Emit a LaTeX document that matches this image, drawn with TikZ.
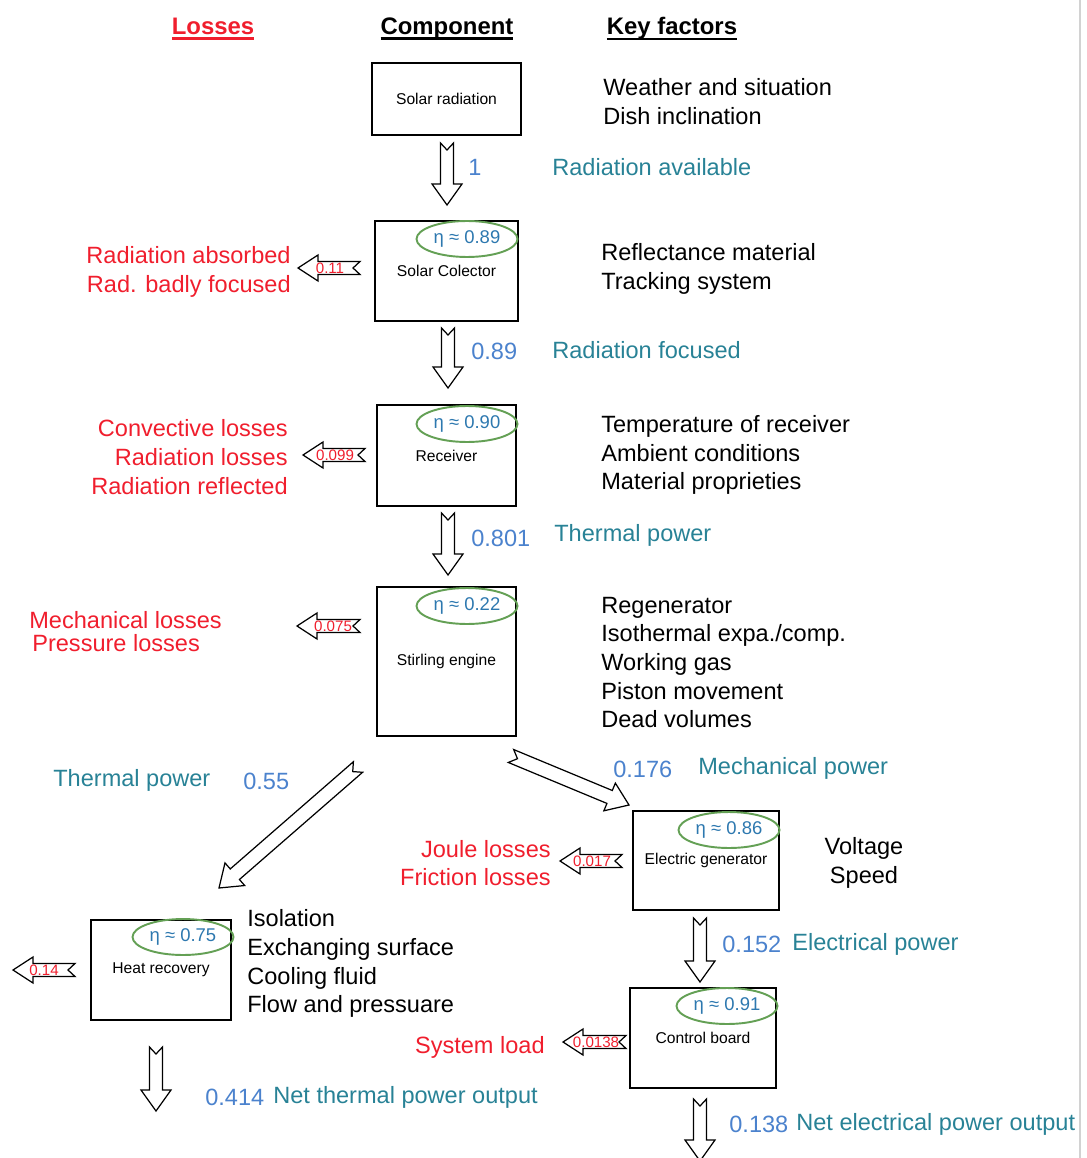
\documentclass[tikz,border=0pt]{standalone}
\usepackage{fontspec}
\setmainfont{Liberation Sans}
\usetikzlibrary{calc,shapes.geometric}
\definecolor{lossred}{RGB}{240,30,45}
\definecolor{numblue}{RGB}{75,130,205}
\definecolor{flowteal}{RGB}{40,130,150}
\definecolor{effgreen}{RGB}{100,160,85}
\definecolor{efftext}{RGB}{45,120,175}
\newcommand{\hdrline}[1]{\setbox0\hbox{#1}\rlap{\copy0}\rule[-3.2pt]{\wd0}{1.3pt}}
\begin{document}
\begin{tikzpicture}[x=0.02cm, y=-0.02cm]
\tikzset{component/.style={draw, line width=0.9pt, inner sep=0pt, font=\fontsize{8.9}{10}\selectfont},
  effic/.style={draw=effgreen, line width=1.1pt, ellipse, inner sep=0pt, minimum width=2.02cm, minimum height=0.72cm, text=efftext, font=\fontsize{10.5}{12}\selectfont},
  txt/.style={inner sep=0pt, yshift=-1.2pt, font=\fontsize{13.4}{16.3}\selectfont},
  header/.style={inner sep=0pt, yshift=-1.5pt, font=\bfseries\fontsize{13.6}{16}\selectfont},
  loss/.style={txt, text=lossred, align=right, anchor=east},
  factor/.style={txt, align=left, anchor=west},
  flow/.style={txt, text=flowteal, anchor=west},
  val/.style={txt, text=numblue, anchor=west},
  lossval/.style={inner sep=0pt, text=lossred, font=\fontsize{8.6}{9}\selectfont},
  blockarr/.style n args={4}{draw, fill=white, line width=0.7pt, line join=miter,
    to path={($(\tikztostart)!#1!90:(\tikztotarget)$)
      -- ($(\tikztotarget)!#3!(\tikztostart)!#1!-90:(\tikztostart)$)
      -- ($(\tikztotarget)!#3!(\tikztostart)!#2!-90:(\tikztostart)$)
      -- (\tikztotarget)
      -- ($(\tikztotarget)!#3!(\tikztostart)!#2!90:(\tikztostart)$)
      -- ($(\tikztotarget)!#3!(\tikztostart)!#1!90:(\tikztostart)$)
      -- ($(\tikztostart)!#1!-90:(\tikztotarget)$)
      -- ($(\tikztostart)!#4!(\tikztotarget)$) -- cycle}},
  bigarr/.style={blockarr={0.13cm}{0.3cm}{0.42cm}{0.14cm}},
  lossarr/.style={blockarr={0.13cm}{0.26cm}{0.4cm}{0.14cm}}}
\useasboundingbox (0,0) rectangle (1086,1158);
\draw[gray!35, line width=0.8pt] (1080,0) -- (1080,1158);

% column heads
\node[header, text=lossred] (hLoss) at (213,26) {\hdrline{Losses}};
\node[header] (hComp) at (447,26) {\hdrline{Component}};
\node[header] (hKey) at (672,26) {\hdrline{Key factors}};

% components
\node[component, minimum width=2.98cm, minimum height=1.44cm] (sun) at (446.5,99) {Solar radiation};
\node[component, minimum width=2.86cm, minimum height=2cm] (col) at (446.5,271) {Solar Colector};
\node[component, minimum width=2.78cm, minimum height=2.02cm] (rec) at (446.5,455.5) {Receiver};
\node[component, minimum width=2.78cm, minimum height=2.98cm] (eng) at (446.5,661.5) {Stirling engine};
\node[component, minimum width=2.92cm, minimum height=1.98cm] (gen) at (706,860.5) {Electric generator};
\node[component, minimum width=2.8cm, minimum height=2cm] (heat) at (161,970) {Heat recovery};
\node[component, minimum width=2.92cm, minimum height=2cm] (ctrl) at (703,1038) {Control board};

\node[effic] (colEff) at (467,239) {η ≈ 0.89};
\node[effic] (recEff) at (467,424) {η ≈ 0.90};
\node[effic] (engEff) at (467,606) {η ≈ 0.22};
\node[effic] (genEff) at (729,830) {η ≈ 0.86};
\node[effic] (heatEff) at (183,937) {η ≈ 0.75};
\node[effic] (ctrlEff) at (727,1006) {η ≈ 0.91};

% main flow
\coordinate (f1s) at (447,143); \coordinate (f1e) at (447,205);
\coordinate (f2s) at (448,328); \coordinate (f2e) at (448,388);
\coordinate (f3s) at (448,513); \coordinate (f3e) at (448,575);
\coordinate (f4s) at (358,767); \coordinate (f4e) at (219,888);
\coordinate (f5s) at (511,756); \coordinate (f5e) at (629,805);
\coordinate (f6s) at (700,918); \coordinate (f6e) at (700,982);
\coordinate (f7s) at (156,1047); \coordinate (f7e) at (156,1111);
\coordinate (f8s) at (700,1099); \coordinate (f8e) at (700,1161);
\draw[bigarr] (f1s) to (f1e);
\draw[bigarr] (f2s) to (f2e);
\draw[bigarr] (f3s) to (f3e);
\draw[blockarr={0.14cm}{0.3cm}{0.42cm}{0.14cm}] (f4s) to (f4e);
\draw[blockarr={0.14cm}{0.3cm}{0.42cm}{0.14cm}] (f5s) to (f5e);
\draw[bigarr] (f6s) to (f6e);
\draw[bigarr] (f7s) to (f7e);
\draw[bigarr] (f8s) to (f8e);

% losses
\coordinate (l1s) at (360,268); \coordinate (l1e) at (298,268);
\coordinate (l2s) at (365,455); \coordinate (l2e) at (303,455);
\coordinate (l3s) at (360,626); \coordinate (l3e) at (297,626);
\coordinate (l4s) at (622,861); \coordinate (l4e) at (560,861);
\coordinate (l5s) at (75,970); \coordinate (l5e) at (13,970);
\coordinate (l6s) at (626,1042); \coordinate (l6e) at (563,1042);
\draw[lossarr] (l1s) to (l1e);
\draw[lossarr] (l2s) to (l2e);
\draw[lossarr] (l3s) to (l3e);
\draw[lossarr] (l4s) to (l4e);
\draw[lossarr] (l5s) to (l5e);
\draw[lossarr] (l6s) to (l6e);
\node[lossval] (colLoss) at (330,268) {0.11};
\node[lossval] (recLoss) at (335,455) {0.099};
\node[lossval] (engLoss) at (333,626) {0.075};
\node[lossval] (genLoss) at (592,861) {0.017};
\node[lossval] (heatLoss) at (44,970) {0.14};
\node[lossval] (ctrlLoss) at (596,1042) {0.0138};

\node[loss] (colLossTxt) at (291,269.5) {Radiation absorbed\\Rad. badly focused};
\node[loss] (recLossTxt) at (288,455) {Convective losses\\Radiation losses\\Radiation reflected};
\node[txt, text=lossred, align=left, anchor=west, font=\fontsize{13.4}{13}\selectfont] (engLossTxt) at (29,629.5) {Mechanical losses\\\hspace{0.06cm}Pressure losses};
\node[loss] (genLossTxt) at (551,861) {Joule losses\\Friction losses};
\node[loss] (ctrlLossTxt) at (545,1045) {System load};

% key factors
\node[factor] (sunKey) at (603,99.5) {Weather and situation\\Dish inclination};
\node[factor] (colKey) at (601,266.5) {Reflectance material\\Tracking system};
\node[factor] (recKey) at (601,453) {Temperature of receiver\\Ambient conditions\\Material proprieties};
\node[factor] (engKey) at (601,660.5) {Regenerator\\Isothermal expa./comp.\\Working gas\\Piston movement\\Dead volumes};
\node[txt, align=center] (genKey) at (864,861) {Voltage\\Speed};
\node[factor] (heatKey) at (247,961.5) {Isolation\\Exchanging surface\\Cooling fluid\\Flow and pressuare};

% flow values
\node[val] (v1) at (468,165) {1};
\node[flow] (v1t) at (552,165) {Radiation available};
\node[val] (v2) at (471,349) {0.89};
\node[flow] (v2t) at (552,348) {Radiation focused};
\node[val] (v3) at (471,536) {0.801};
\node[flow] (v3t) at (554,533) {Thermal power};
\node[flow] (v4t) at (53,778) {Thermal power};
\node[val] (v4) at (243,779) {0.55};
\node[val] (v5) at (613,767) {0.176};
\node[flow] (v5t) at (698,766) {Mechanical power};
\node[val] (v6) at (722,942) {0.152};
\node[flow] (v6t) at (792,942) {Electrical power};
\node[val] (v7) at (205,1095) {0.414};
\node[flow] (v7t) at (273,1095) {Net thermal power output};
\node[val] (v8) at (729,1122) {0.138};
\node[flow] (v8t) at (796,1122) {Net electrical power output};
\end{tikzpicture}
\end{document}
